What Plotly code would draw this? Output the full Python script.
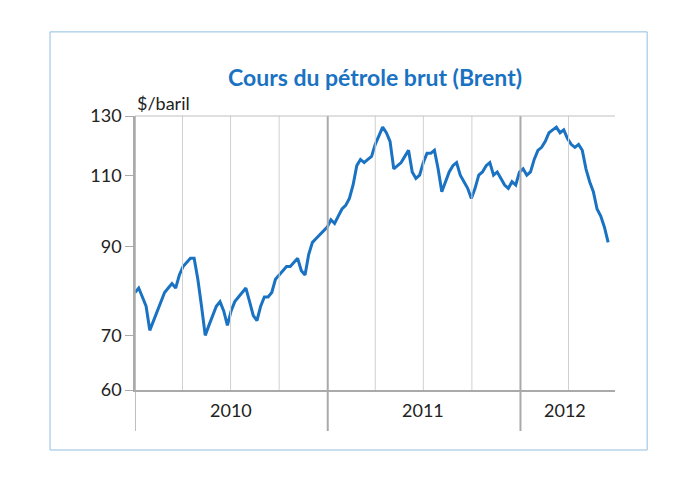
import pandas as pd
import plotly.graph_objects as go

# Brent weekly price ($/baril)
prix_2010 = [79, 80, 78, 76, 71, 73, 75, 77, 79, 80, 81, 80, 83, 85, 86, 87, 87,
             82, 76, 70, 72, 74, 76, 77, 75, 72, 75, 77, 78, 79, 80, 77, 74, 73,
             76, 78, 78, 79, 82, 83, 84, 85, 85, 86, 87, 84, 83, 88, 91, 92, 93, 94]
prix_2011 = [95, 97, 96, 98, 100, 101, 103, 107, 113, 115, 114, 115, 116, 120, 123,
             126, 124, 121, 112, 113, 114, 116, 118, 111, 109, 110, 114, 117, 117,
             118, 112, 105, 108, 111, 113, 114, 110, 108, 106, 103, 106, 110, 111,
             113, 114, 110, 111, 109, 107, 106, 108, 107]
prix_2012 = [111, 112, 110, 111, 115, 118, 119, 121, 124, 125, 126, 124, 125, 122,
             120, 119, 120, 118, 112, 108, 105, 100, 98, 95, 91]
prix = prix_2010 + prix_2011 + prix_2012
dates = pd.date_range("2010-01-01", periods=len(prix), freq="7D")

y_ticks = [60, 70, 90, 110, 130]
annees = ["2010", "2011", "2012"]
annee_milieu = ["2010-07-01", "2011-07-01", "2012-03-25"]

bleu = "#1a72c2"
fig = go.Figure(go.Scatter(x=dates, y=prix, mode="lines",
                           line=dict(color=bleu, width=3)))

shapes = []
for q in pd.date_range("2010-04-01", "2012-04-01", freq="QS"):
    annuel = q.month == 1
    shapes.append(dict(type="line", xref="x", yref="paper", x0=q, x1=q,
                       y0=-0.15 if annuel else 0, y1=1,
                       line=dict(color="#aaaaaa" if annuel else "#d0d0d0",
                                 width=2 if annuel else 1)))
shapes.append(dict(type="line", xref="x", yref="paper", x0="2010-01-01", x1="2010-01-01",
                   y0=-0.15, y1=1, line=dict(color="#aaaaaa", width=1.5)))
shapes.append(dict(type="line", xref="paper", yref="paper", x0=0, x1=1, y0=1, y1=1,
                   line=dict(color="#c0c0c0", width=1)))
# cadre extérieur
shapes.append(dict(type="rect", xref="paper", yref="paper", x0=-0.177, x1=1.067,
                   y0=-0.219, y1=1.307, line=dict(color="#8fbfe0", width=1)))

annotations = [dict(x=m, y=-0.12, xref="x", yref="paper", text=a, showarrow=False,
                    font=dict(size=18, color="#222222")) for a, m in zip(annees, annee_milieu)]
annotations.append(dict(x=0, y=1.0, xref="paper", yref="paper", text="$/baril",
                        showarrow=False, xanchor="left", yanchor="bottom",
                        font=dict(size=18, color="#222222")))
annotations.append(dict(x=0.5, y=1.2, xref="paper", yref="paper",
                        text="<b>Cours du pétrole brut (Brent)</b>", showarrow=False,
                        font=dict(size=23, color=bleu)))

fig.update_layout(
    width=695, height=483, margin=dict(l=127, r=88, t=108, b=101),
    paper_bgcolor="white", plot_bgcolor="white", showlegend=False,
    font=dict(family="Lato", color="#222222"),
    shapes=shapes, annotations=annotations,
    xaxis=dict(range=["2010-01-01", "2012-06-28"], showgrid=False, showticklabels=False,
               showline=True, linecolor="#aaaaaa", linewidth=1.5, zeroline=False),
    yaxis=dict(type="log", range=[1.77815, 2.11394], tickvals=y_ticks,
               ticktext=[str(v) for v in y_ticks], showgrid=False, showline=True,
               linecolor="#aaaaaa", linewidth=1.5, ticks="outside", ticklen=8,
               tickcolor="#aaaaaa", tickfont=dict(size=18), zeroline=False),
)
fig.write_html("out.html")
